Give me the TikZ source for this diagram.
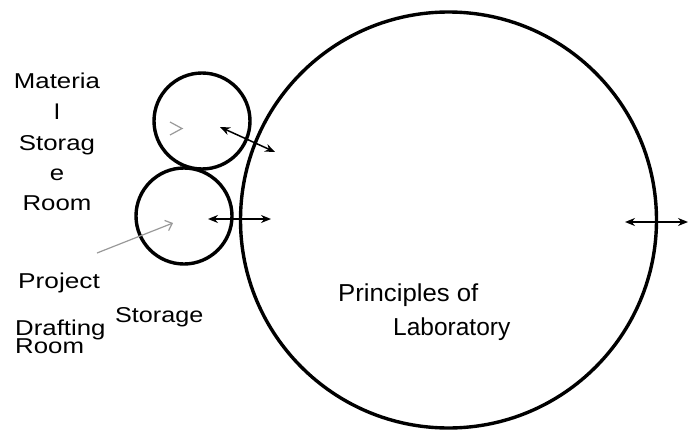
\documentclass[tikz,border=0pt]{standalone}
\usepackage{fontspec}
\setmainfont{Liberation Sans}
\usetikzlibrary{arrows.meta}
\tikzset{
  room/.style={draw=black, line width=3.4pt, circle, inner sep=0pt},
  lbl/.style={inner sep=0pt, anchor=base west, font=\fontsize{21.5}{25}\selectfont},
  lblc/.style={inner sep=0pt, anchor=base, font=\fontsize{21.5}{25}\selectfont},
  biglbl/.style={inner sep=0pt, anchor=base west, font=\fontsize{24.5}{29}\selectfont},
  dbl/.style={line width=1.5pt, {Stealth[length=10pt,width=8pt]}-{Stealth[length=10pt,width=8pt]}},
  grayarr/.style={draw=gray!80, line width=1.2pt, -{Straight Barb[length=6pt,width=11pt]}}
}
\newcommand{\hs}[2]{\scalebox{#1}[1]{#2}}
\begin{document}
\begin{tikzpicture}[x=1pt,y=-1pt]
\useasboundingbox (0,0) rectangle (689,434);
% circles
\node[room, minimum size=416pt] (lab) at (448.5,220) {};
\node[room, minimum size=96pt] (mat) at (202,121) {};
\node[room, minimum size=96pt] (proj) at (184,216) {};
% double arrows
\coordinate (a1) at (220,127); \coordinate (b1) at (275,152);
\coordinate (a2) at (208,219); \coordinate (b2) at (271,219);
\coordinate (a3) at (625,222); \coordinate (b3) at (688,222);
\draw[dbl] (a1) -- (b1);
\draw[dbl] (a2) -- (b2);
\draw[dbl] (a3) -- (b3);
% gray arrow
\coordinate (g1) at (97,253); \coordinate (g2) at (173,223);
\draw[grayarr] (g1) -- (g2);
% gray mark
\coordinate (m1) at (170,122); \coordinate (m2) at (182,128.5); \coordinate (m3) at (170,135);
\draw[gray!80, line width=1.2pt] (m1) -- (m2) -- (m3);
% labels
\node[lblc] (t1) at (57,88) {\hs{1.2}{Materia}};
\node[lblc] (t2) at (57,119) {\hs{1.2}{l}};
\node[lblc] (t3) at (57,150) {\hs{1.2}{Storag}};
\node[lblc] (t4) at (57,180) {\hs{1.2}{e}};
\node[lblc] (t5) at (57,210) {\hs{1.2}{Room}};
\node[lbl] (p1) at (18,288) {\hs{1.22}{Project}};
\node[lbl] (p2) at (15,335) {\hs{1.2}{Drafting}};
\node[lbl] (p3) at (15,353) {\hs{1.2}{Room}};
\node[lbl] (s1) at (115,322) {\hs{1.17}{Storage}};
\node[biglbl] (l1) at (338,301.5) {\hs{1.05}{Principles of}};
\node[biglbl] (l2) at (393,335.5) {Laboratory};
\end{tikzpicture}
\end{document}
